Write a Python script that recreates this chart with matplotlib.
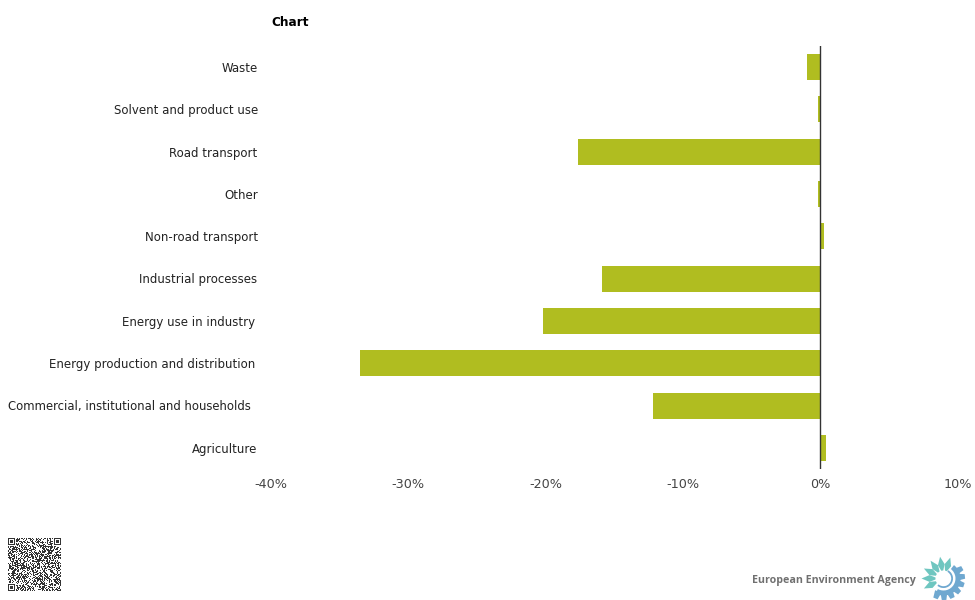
import numpy as np
import matplotlib
matplotlib.use("Agg")
import matplotlib.pyplot as plt
from matplotlib.patches import Polygon, Circle, Wedge
from matplotlib.transforms import blended_transform_factory

W, H = 975, 600
plt.rcParams['font.family'] = ['DejaVu Sans']

categories = ["Agriculture", "Commercial, institutional and households",
              "Energy production and distribution", "Energy use in industry",
              "Industrial processes", "Non-road transport", "Other",
              "Road transport", "Solvent and product use", "Waste"]
values = [0.4, -12.2, -33.5, -20.2, -15.9, 0.3, -0.18, -17.65, -0.18, -0.98]
x_ticks = [-40, -30, -20, -10, 0, 10]
x_tick_labels = ["-40%", "-30%", "-20%", "-10%", "0%", "10%"]
label_right_px = [257, 251, 255, 255, 257, 258, 258, 257, 258, 258]

fig = plt.figure(figsize=(W/100, H/100), dpi=100, facecolor='white')
L, R, T, B = 270.6, 957.6, 46, 469
ax = fig.add_axes([L/W, 1-B/H, (R-L)/W, (B-T)/H])
ypos = np.arange(len(categories))
ax.barh(ypos, values, height=0.615, color='#b0bd20', linewidth=0, zorder=2)
ax.set_xlim(-40, 10)
ax.set_ylim(-0.5, 9.5)
for s in ['top', 'right', 'left', 'bottom']:
    ax.spines[s].set_visible(False)
ax.axvline(0, color='#333333', lw=1, zorder=3)
ax.set_yticks([])
ax.set_xticks(x_ticks, x_tick_labels)
ax.tick_params(axis='x', length=0, pad=6.5, labelsize=9.2, labelcolor='#444444')
tr = blended_transform_factory(fig.transFigure, ax.transData)
for y, c, r in zip(ypos, categories, label_right_px):
    ax.text(r/W, y - 0.03, c, transform=tr, ha='right', va='center',
            fontsize=8.35 if r == 251 else 8.5, color='#222222')
fig.text(271/W, 1-23/H, "Chart", fontsize=8.7, fontweight='bold', color='black', ha='left', va='center')

# overlay in pixel coordinates for the footer marks
ov = fig.add_axes([0, 0, 1, 1], facecolor='none')
ov.set_xlim(0, W); ov.set_ylim(H, 0); ov.axis('off')

# QR-like code (decorative texture, 53 modules)
n = 53
m = np.zeros((n, n))
state = 12345
for i in range(n):
    for j in range(n):
        state = (state * 1103515245 + 12345) % 2147483648
        m[i, j] = 1 if (state >> 16) & 1 else 0
def finder(a, r, c):
    a[max(r-1,0):r+8, max(c-1,0):c+8] = 0
    a[r:r+7, c:c+7] = 1
    a[r+1:r+6, c+1:c+6] = 0
    a[r+2:r+5, c+2:c+5] = 1
finder(m, 0, 0); finder(m, 0, n-7); finder(m, n-7, 0)
ov.imshow(1-0.8*m, cmap='gray', vmin=0, vmax=1, extent=(8, 61, 591, 538), interpolation='bilinear', aspect='auto', zorder=1)
ov.set_xlim(0, W); ov.set_ylim(H, 0)

# EEA logo
ov.text(752, 580, "European Environment Agency", fontsize=7.7, fontweight='bold', color='#707070',
        ha='left', va='center', family='Open Sans')
cx, cy = 943.5, 578.5
c0 = np.array([cx, cy])
for a in np.arange(72, 225, 27):          # teal petals (screen angles)
    t = np.deg2rad(a)
    d = np.array([np.cos(t), -np.sin(t)]); nrm = np.array([-d[1], d[0]])
    pts = [c0+8*d+1*nrm, c0+14*d+3.4*nrm, c0+22*d, c0+14*d-3.4*nrm, c0+8*d-1*nrm]
    ov.add_patch(Polygon(pts, closed=True, fc='#6fc6c0', ec='none', zorder=2))
# y axis is inverted here, so wedge angles run clockwise on screen
ov.add_patch(Wedge((cx, cy), 17, -52, 118, width=5, fc='#6fa8d0', ec='none', zorder=2))
for a in np.arange(-112, 50, 23.5):         # blue gear teeth
    t = np.deg2rad(a)
    d = np.array([np.cos(t), -np.sin(t)]); nrm = np.array([-d[1], d[0]])
    pts = [c0+14*d+3.4*nrm, c0+21.5*d+2.3*nrm, c0+21.5*d-2.3*nrm, c0+14*d-3.4*nrm]
    ov.add_patch(Polygon(pts, closed=True, fc='#6fa8d0', ec='none', zorder=2))
ov.add_patch(Wedge((cx, cy), 9.5, -60, 130, width=1.8, fc='#6fa8d0', ec='none', zorder=3))

fig.savefig("out.png", dpi=100)
